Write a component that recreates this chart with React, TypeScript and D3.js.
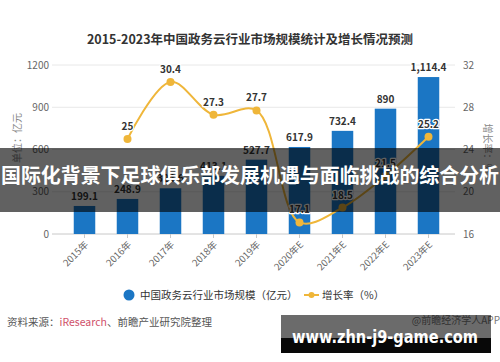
import React from "react";
import * as d3 from "d3";

// categories and values
const years = ["2015年", "2016年", "2017年", "2018年", "2019年", "2020年E", "2021年E", "2022年E", "2023年E"];
const marketSize = [199.1, 248.9, 324.6, 413.1, 527.7, 617.9, 732.4, 890, 1114.4];
const sizeLabels = ["199.1", "248.9", "324.6", "413.1", "527.7", "617.9", "732.4", "890", "1,114.4"];
const growth = [null, 25, 30.4, 27.3, 27.7, 17.1, 18.5, 21.5, 25.2];
const leftTicks = [0, 300, 600, 900, 1200];
const rightTicks = [16, 20, 24, 28, 32];

const W = 500;
const H = 362;
const FONT = "'Noto Sans CJK SC', 'Noto Sans', sans-serif";
const BLUE = "#1b76c4";
const GOLD = "#efb63a";

const App = () => {
  // x is a band scale, one band per year
  const x = d3.scaleBand().domain(years).range([63, 450]).paddingInner(0.5).paddingOuter(0.25);
  const yL = d3.scaleLinear().domain([0, 1200]).range([234, 65]);
  const yR = d3.scaleLinear().domain([16, 32]).range([234, 65]);
  const cx = (d) => x(d) + x.bandwidth() / 2;

  const pts = years
    .map((yr, i) => ({ yr, v: growth[i] }))
    .filter((p) => p.v !== null);

  const line = d3
    .line()
    .x((p) => cx(p.yr))
    .y((p) => yR(p.v))
    .curve(d3.curveCatmullRom.alpha(0.5));

  const halo = { paintOrder: "stroke" as const, stroke: "#fff", strokeWidth: 2.5, strokeLinejoin: "round" as const };

  return (
    <svg width={W} height={H} style={{ position: "absolute", left: 0, top: 0, background: "#fff" }} fontFamily={FONT}>
      <rect width={W} height={H} fill="#fff" />
      <text x={250} y={44} textAnchor="middle" fontSize={12.5} fontWeight="bold" fill="#333">
        2015-2023年中国政务云行业市场规模统计及增长情况预测
      </text>

      {/* grid */}
      {leftTicks.map((t) => (
        <line key={t} x1={52} x2={455} y1={yL(t)} y2={yL(t)} stroke={t === 0 ? "#c8c8c8" : "#e8e8e8"} />
      ))}
      {years.map((yr) => (
        <line key={yr} x1={cx(yr)} x2={cx(yr)} y1={234} y2={238} stroke="#c8c8c8" />
      ))}

      {/* axes labels */}
      {leftTicks.map((t) => (
        <text key={t} x={49} y={yL(t)} dy="0.35em" textAnchor="end" fontSize={10} fill="#666">
          {t}
        </text>
      ))}
      {rightTicks.map((t) => (
        <text key={t} x={463} y={yR(t)} dy="0.35em" fontSize={10} fill="#666">
          {t}
        </text>
      ))}
      {years.map((yr) => (
        <text
          key={yr}
          transform={`translate(${cx(yr) + 2},${243}) rotate(-45)`}
          textAnchor="end"
          dy="0.35em"
          fontSize={9.5}
          fill="#666"
        >
          {yr}
        </text>
      ))}
      <text transform="translate(17,138) rotate(-90)" textAnchor="middle" dy="0.35em" fontSize={10} fill="#888">
        单位：亿元
      </text>
      <text transform="translate(487,148) rotate(90)" textAnchor="middle" dy="0.35em" fontSize={10} fill="#888">
        增长率：%
      </text>

      {/* bars */}
      {years.map((yr, i) => (
        <rect
          key={yr}
          x={x(yr)}
          y={yL(marketSize[i])}
          width={x.bandwidth()}
          height={234 - yL(marketSize[i])}
          fill={BLUE}
        />
      ))}
      {years.map((yr, i) => (
        <text
          key={yr}
          x={cx(yr)}
          y={yL(marketSize[i]) - 6}
          textAnchor="middle"
          fontSize={10}
          fontWeight="bold"
          fill="#333"
          style={halo}
        >
          {sizeLabels[i]}
        </text>
      ))}

      {/* growth line */}
      <path d={line(pts)} fill="none" stroke={GOLD} strokeWidth={2} />
      {pts.map((p) => (
        <circle key={p.yr} cx={cx(p.yr)} cy={yR(p.v)} r={4} fill={GOLD} />
      ))}
      {pts.map((p) => (
        <text
          key={p.yr}
          x={cx(p.yr)}
          y={yR(p.v) - 9}
          textAnchor="middle"
          fontSize={10}
          fontWeight="bold"
          fill="#333"
          style={halo}
        >
          {p.v}
        </text>
      ))}

      {/* legend */}
      <circle cx={129} cy={295} r={5.5} fill={BLUE} />
      <text x={140} y={295} dy="0.35em" fontSize={10.5} fill="#333">
        中国政务云行业市场规模（亿元）
      </text>
      <line x1={304} x2={319} y1={295} y2={295} stroke={GOLD} strokeWidth={2} />
      <circle cx={311.5} cy={295} r={3} fill={GOLD} />
      <text x={322} y={295} dy="0.35em" fontSize={10.5} fill="#333">
        增长率（%）
      </text>

      {/* source */}
      <text x={7} y={322} dy="0.35em" fontSize={10.5} fill="#555">
        资料来源：<tspan fill="#d0506a">iResearch</tspan>、前瞻产业研究院整理
      </text>
      <text x={500} y={320} dy="0.35em" textAnchor="end" fontSize={10} fill="#777">
        @前瞻经济学人APP
      </text>

      {/* overlays */}
      <rect x={0} y={148} width={W} height={64} fill="rgba(0,0,0,0.62)" />
      <text
        x={250}
        y={176}
        dy="0.35em"
        textAnchor="middle"
        fontSize={20}
        fontWeight="bold"
        fill="#fff"
        textLength={498}
        lengthAdjust="spacingAndGlyphs"
      >
        国际化背景下足球俱乐部发展机遇与面临挑战的综合分析
      </text>
      <rect x={281} y={315} width={210} height={23} fill="rgba(0,0,0,0.58)" />
      <rect x={281} y={338} width={210} height={15} fill="#080808" />
      <text
        x={292}
        y={343}
        fontFamily="'DejaVu Sans', sans-serif"
        fontSize={17}
        fontWeight="bold"
        fill="#fff"
        textLength={186}
        lengthAdjust="spacingAndGlyphs"
      >
        www.zhn-j9-game.com
      </text>
    </svg>
  );
};

export default App;
